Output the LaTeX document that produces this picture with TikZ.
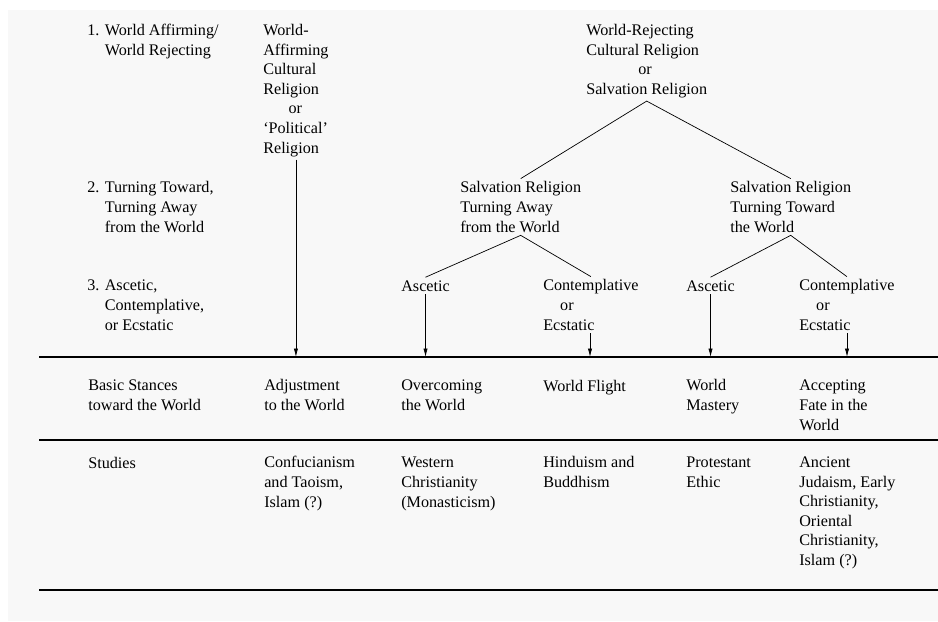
\documentclass[tikz,border=0pt]{standalone}
\usepackage{fontspec}
\setmainfont{Liberation Serif}
\usetikzlibrary{arrows.meta}

\tikzset{%
  cell/.style={anchor=base west, align=left, inner xsep=0pt, inner ysep=2pt, font=\fontsize{11.500000}{13.900000}\selectfont},%
  branch/.style={line width=0.5pt},%
  rule/.style={line width=0.8pt},%
  down/.style={line width=0.5pt, -{Latex[length=6pt,width=3pt]}}%
}

\begin{document}
\begin{tikzpicture}[x=0.025cm, y=-0.025cm]%
\useasboundingbox (0,0) rectangle (938,621);%
\fill[fill={rgb,255:red,248;green,248;blue,248}] (8,10) rectangle (938,621);%
% row labels on the left (placed at the baseline of their last line)
\node[cell] (lvlone) at (87,55.5) {1. World Affirming/\\\phantom{1. }World Rejecting};%
\node[cell] (lvltwo) at (87,232) {2. Turning Toward,\\\phantom{2. }Turning Away\\\phantom{2. }from the World};%
\node[cell] (lvlthree) at (87,330) {3. Ascetic,\\\phantom{3. }Contemplative,\\\phantom{3. }or Ecstatic};%
% tree
\node[cell] (waff) at (263,153) {World-\\Affirming\\Cultural\\Religion\\\hspace*{18pt}or\\‘Political’\\Religion};%
\node[cell] (wrej) at (586,94.5) {World-Rejecting\\Cultural Religion\\\hspace*{37pt}or\\Salvation Religion};%
\node[cell] (saway) at (460,232) {Salvation Religion\\Turning Away\\from the World};%
\node[cell] (stoward) at (730,232) {Salvation Religion\\Turning Toward\\the World};%
\node[cell] (asca) at (401,291) {Ascetic};%
\node[cell] (conta) at (543,330) {Contemplative\\\hspace*{12pt}or\\Ecstatic};%
\node[cell] (ascb) at (686,291) {Ascetic};%
\node[cell] (contb) at (799,330) {Contemplative\\\hspace*{12pt}or\\Ecstatic};%
\coordinate (ecsa) at (590,333);%
\coordinate (ecsb) at (847,333);%
\draw[branch] (saway.north) -- (wrej.south) -- (stoward.north);%
\draw[branch] (asca.north) -- (saway.south) -- (conta.north);%
\draw[branch] (ascb.north) -- (stoward.south) -- (contb.north);%
% horizontal rules
\coordinate (ruleonew) at (39,357);%
\coordinate (ruleonee) at (938,357);%
\coordinate (ruletwow) at (39,440);%
\coordinate (ruletwoe) at (938,440);%
\coordinate (rulethreew) at (39,590);%
\coordinate (rulethreee) at (938,590);%
\draw[rule] (ruleonew) -- (ruleonee);%
\draw[rule] (ruletwow) -- (ruletwoe);%
\draw[rule] (rulethreew) -- (rulethreee);%
% arrows down to the stances
\draw[down] (waff.south) -- (waff.south |- ruleonew);%
\draw[down] (asca.south) -- (asca.south |- ruleonew);%
\draw[down] (ecsa) -- (ecsa |- ruleonew);%
\draw[down] (ascb.south) -- (ascb.south |- ruleonew);%
\draw[down] (ecsb) -- (ecsb |- ruleonew);%
% basic stances
\node[cell] (stances) at (88,410.5) {Basic Stances\\toward the World};%
\node[cell] (adjust) at (264,410.5) {Adjustment\\to the World};%
\node[cell] (overcome) at (401,410.5) {Overcoming\\the World};%
\node[cell] (flight) at (543,391) {World Flight};%
\node[cell] (mastery) at (686,410.5) {World\\Mastery};%
\node[cell] (fate) at (799,430) {Accepting\\Fate in the\\World};%
% studies
\node[cell] (studies) at (88,468) {Studies};%
\node[cell] (confuc) at (264,507) {Confucianism\\and Taoism,\\Islam (?)};%
\node[cell] (western) at (401,507) {Western\\Christianity\\(Monasticism)};%
\node[cell] (hindu) at (543,487.5) {Hinduism and\\Buddhism};%
\node[cell] (protest) at (686,487.5) {Protestant\\Ethic};%
\node[cell] (ancient) at (799,565.5) {Ancient\\Judaism, Early\\Christianity,\\Oriental\\Christianity,\\Islam (?)};%
\end{tikzpicture}
\end{document}
